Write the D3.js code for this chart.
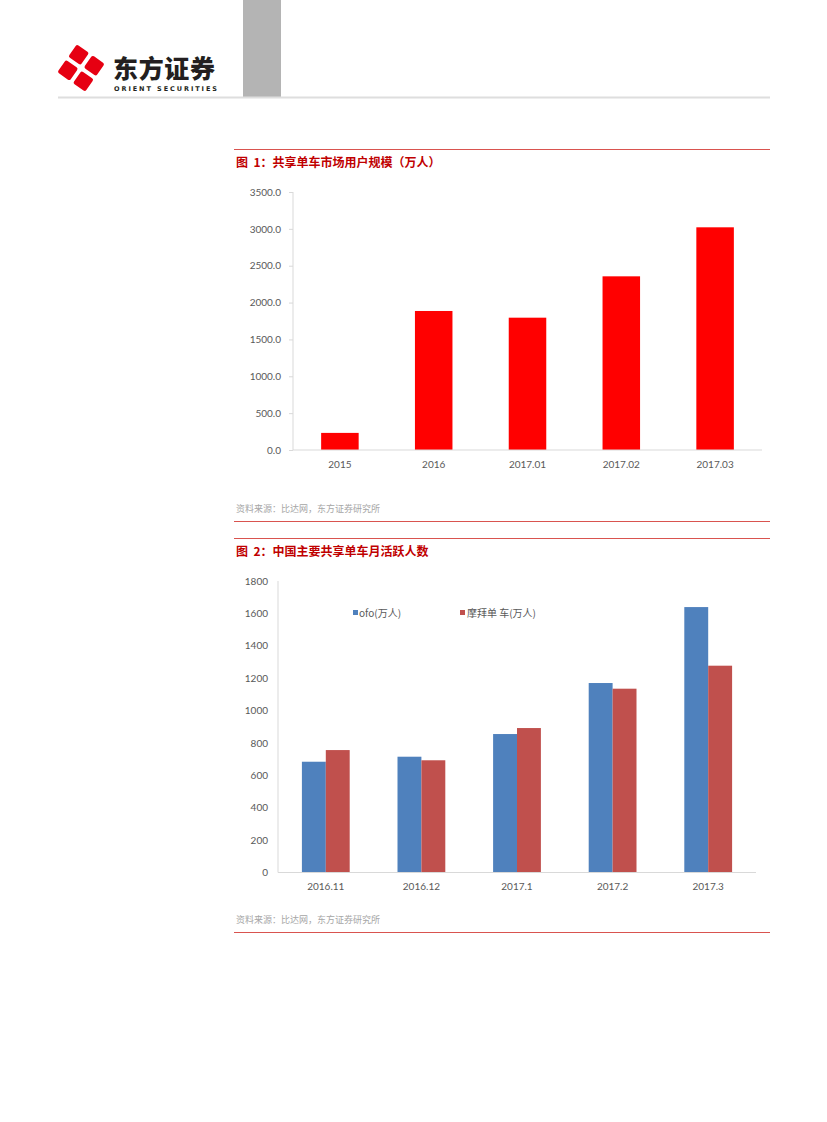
<!DOCTYPE html>
<html>
<head>
<meta charset="utf-8">
<script src="https://cdn.jsdelivr.net/npm/d3@7/dist/d3.min.js"></script>
<style>
  body { margin: 0; background: #fff; }
  svg { display: block; }
  text { font-family: Lato, "Noto Sans CJK SC", sans-serif; }
</style>
</head>
<body>
<script>
// chart 1: 共享单车市场用户规模
const years = ["2015", "2016", "2017.01", "2017.02", "2017.03"];
const users = [232, 1886, 1795, 2356, 3021];
const userTicks = [0, 500, 1000, 1500, 2000, 2500, 3000, 3500];

// chart 2: 月活跃人数
const months = ["2016.11", "2016.12", "2017.1", "2017.2", "2017.3"];
const ofo = [684, 715, 855, 1170, 1639];
const mobike = [756, 693, 892, 1135, 1277];
const mauTicks = [0, 200, 400, 600, 800, 1000, 1200, 1400, 1600, 1800];
const seriesNames = ["ofo(万人)", "摩拜单 车(万人)"];

const W = 827, H = 1122;
const cjk = "'Noto Sans CJK SC', sans-serif";

const svg = d3.select("body").append("svg")
  .attr("width", W)
  .attr("height", H)

// ---- page header ----
svg.append("rect")
   .attr("x", 243).attr("y", 0)
   .attr("width", 38).attr("height", 97)
   .attr("fill", "#b4b4b4")
svg.append("line")
   .attr("x1", 58).attr("x2", 770)
   .attr("y1", 97.5).attr("y2", 97.5)
   .attr("stroke", "#dedede")
   .attr("stroke-width", 2)

const logo = svg.append("g")
   .attr("transform", "translate(81,68) rotate(-10)")
logo.selectAll("rect")
   .data([[-1, -1], [1, -1], [-1, 1], [1, 1]])
   .enter()
   .append("rect")
   .attr("x", d => d[0] < 0 ? -17 : 2)
   .attr("y", d => d[1] < 0 ? -17 : 2)
   .attr("width", 15)
   .attr("height", 15)
   .attr("rx", 2)
   .attr("fill", "#e60012")
   .attr("transform", "rotate(45)")

svg.append("text")
   .attr("x", 113).attr("y", 78)
   .style("font-family", cjk)
   .style("font-weight", "900")
   .style("font-size", "25px")
   .attr("fill", "#231f20")
   .attr("textLength", 102)
   .text("东方证券")
svg.append("text")
   .attr("x", 114).attr("y", 90.5)
   .style("font-family", "'DejaVu Sans', sans-serif")
   .style("font-weight", "bold")
   .style("font-size", "6.5px")
   .attr("fill", "#231f20")
   .attr("textLength", 103)
   .text("ORIENT   SECURITIES")

// ---- figure frames ----
const redLine = (y) => svg.append("line")
   .attr("x1", 234).attr("x2", 770)
   .attr("y1", y).attr("y2", y)
   .attr("stroke", "#d9534f")
   .attr("stroke-width", 1)

const title = (y, t) => svg.append("text")
   .attr("x", 236).attr("y", y)
   .attr("xml:space", "preserve")
   .style("white-space", "pre")
   .style("font-family", cjk)
   .style("font-weight", "bold")
   .style("font-size", "12px")
   .attr("fill", "#c00000")
   .text(t)

const source = (y) => svg.append("text")
   .attr("x", 236).attr("y", y)
   .style("font-family", cjk)
   .style("font-size", "9px")
   .attr("fill", "#a6a6a6")
   .text("资料来源：比达网，东方证券研究所")

redLine(149.5)
title(167, "图  1：共享单车市场用户规模（万人）")
source(512)
redLine(521.5)
redLine(538.5)
title(556, "图  2：中国主要共享单车月活跃人数")
source(923)
redLine(932.5)

// ---- chart 1 ----
const x1 = d3.scaleBand()
  .domain(years)
  .range([293, 762])
  .paddingInner(0.6)
  .paddingOuter(0.3)

const y1 = d3.scaleLinear()
  .domain([0, 3500])
  .range([450, 192])

const yAxis1 = d3.axisLeft(y1)
  .tickValues(userTicks)
  .tickFormat(d3.format(".1f"))
  .tickSize(4)
  .tickPadding(8)

const xAxis1 = d3.axisBottom(x1)
  .tickSize(0)
  .tickPadding(11)

const styleAxis = (g) => {
  g.select(".domain").attr("stroke", "#d9d9d9")
  g.selectAll(".tick line").attr("stroke", "#d9d9d9")
  g.selectAll(".tick text")
   .attr("fill", "#595959")
   .style("font-family", "Lato, sans-serif")
   .style("font-size", "10px")
}

svg.append("g")
   .attr("transform", "translate(293,0)")
   .call(yAxis1)
   .call(g => g.select(".domain").attr("d", "M0,192V450"))
   .call(styleAxis)

svg.append("g")
   .selectAll("rect")
   .data(years)
   .enter()
   .append("rect")
   .attr("x", d => x1(d))
   .attr("y", (d, i) => y1(users[i]))
   .attr("width", x1.bandwidth())
   .attr("height", (d, i) => y1(0) - y1(users[i]))
   .attr("fill", "#ff0000")

svg.append("g")
   .attr("transform", "translate(0,450)")
   .call(xAxis1)
   .call(g => g.select(".domain").attr("d", "M293,0H762"))
   .call(styleAxis)

// ---- chart 2 ----
const x2 = d3.scaleBand()
  .domain(months)
  .range([278, 756])

const sub = d3.scaleBand()
  .domain([0, 1])
  .range([x2.bandwidth() * 0.25, x2.bandwidth() * 0.75])

const y2 = d3.scaleLinear()
  .domain([0, 1800])
  .range([872.5, 581])

const colors = ["#4f81bd", "#c0504d"];
const series = [ofo, mobike];

svg.append("g")
   .attr("transform", "translate(278,0)")
   .call(d3.axisLeft(y2).tickValues(mauTicks).tickFormat(d3.format("d")).tickSize(0).tickPadding(10))
   .call(g => g.select(".domain").attr("d", "M0,581V872.5"))
   .call(styleAxis)

series.forEach((vals, s) => {
  svg.append("g")
     .selectAll("rect")
     .data(months)
     .enter()
     .append("rect")
     .attr("x", d => x2(d) + sub(s))
     .attr("y", (d, i) => y2(vals[i]))
     .attr("width", sub.bandwidth())
     .attr("height", (d, i) => y2(0) - y2(vals[i]))
     .attr("fill", colors[s])
})

svg.append("g")
   .attr("transform", "translate(0,872.5)")
   .call(d3.axisBottom(x2).tickSize(0).tickPadding(10))
   .call(g => g.select(".domain").attr("d", "M278,0H756"))
   .call(styleAxis)

// legend
const legend = svg.append("g")
legend.selectAll("rect")
   .data(seriesNames)
   .enter()
   .append("rect")
   .attr("x", (d, i) => [353, 460][i])
   .attr("y", 610)
   .attr("width", 5)
   .attr("height", 5)
   .attr("fill", (d, i) => colors[i])
legend.selectAll("text")
   .data(seriesNames)
   .enter()
   .append("text")
   .attr("x", (d, i) => [359, 467][i])
   .attr("y", 616.5)
   .style("font-family", cjk)
   .style("font-size", "10px")
   .attr("fill", "#595959")
   .text(d => d)
</script>
</body>
</html>
